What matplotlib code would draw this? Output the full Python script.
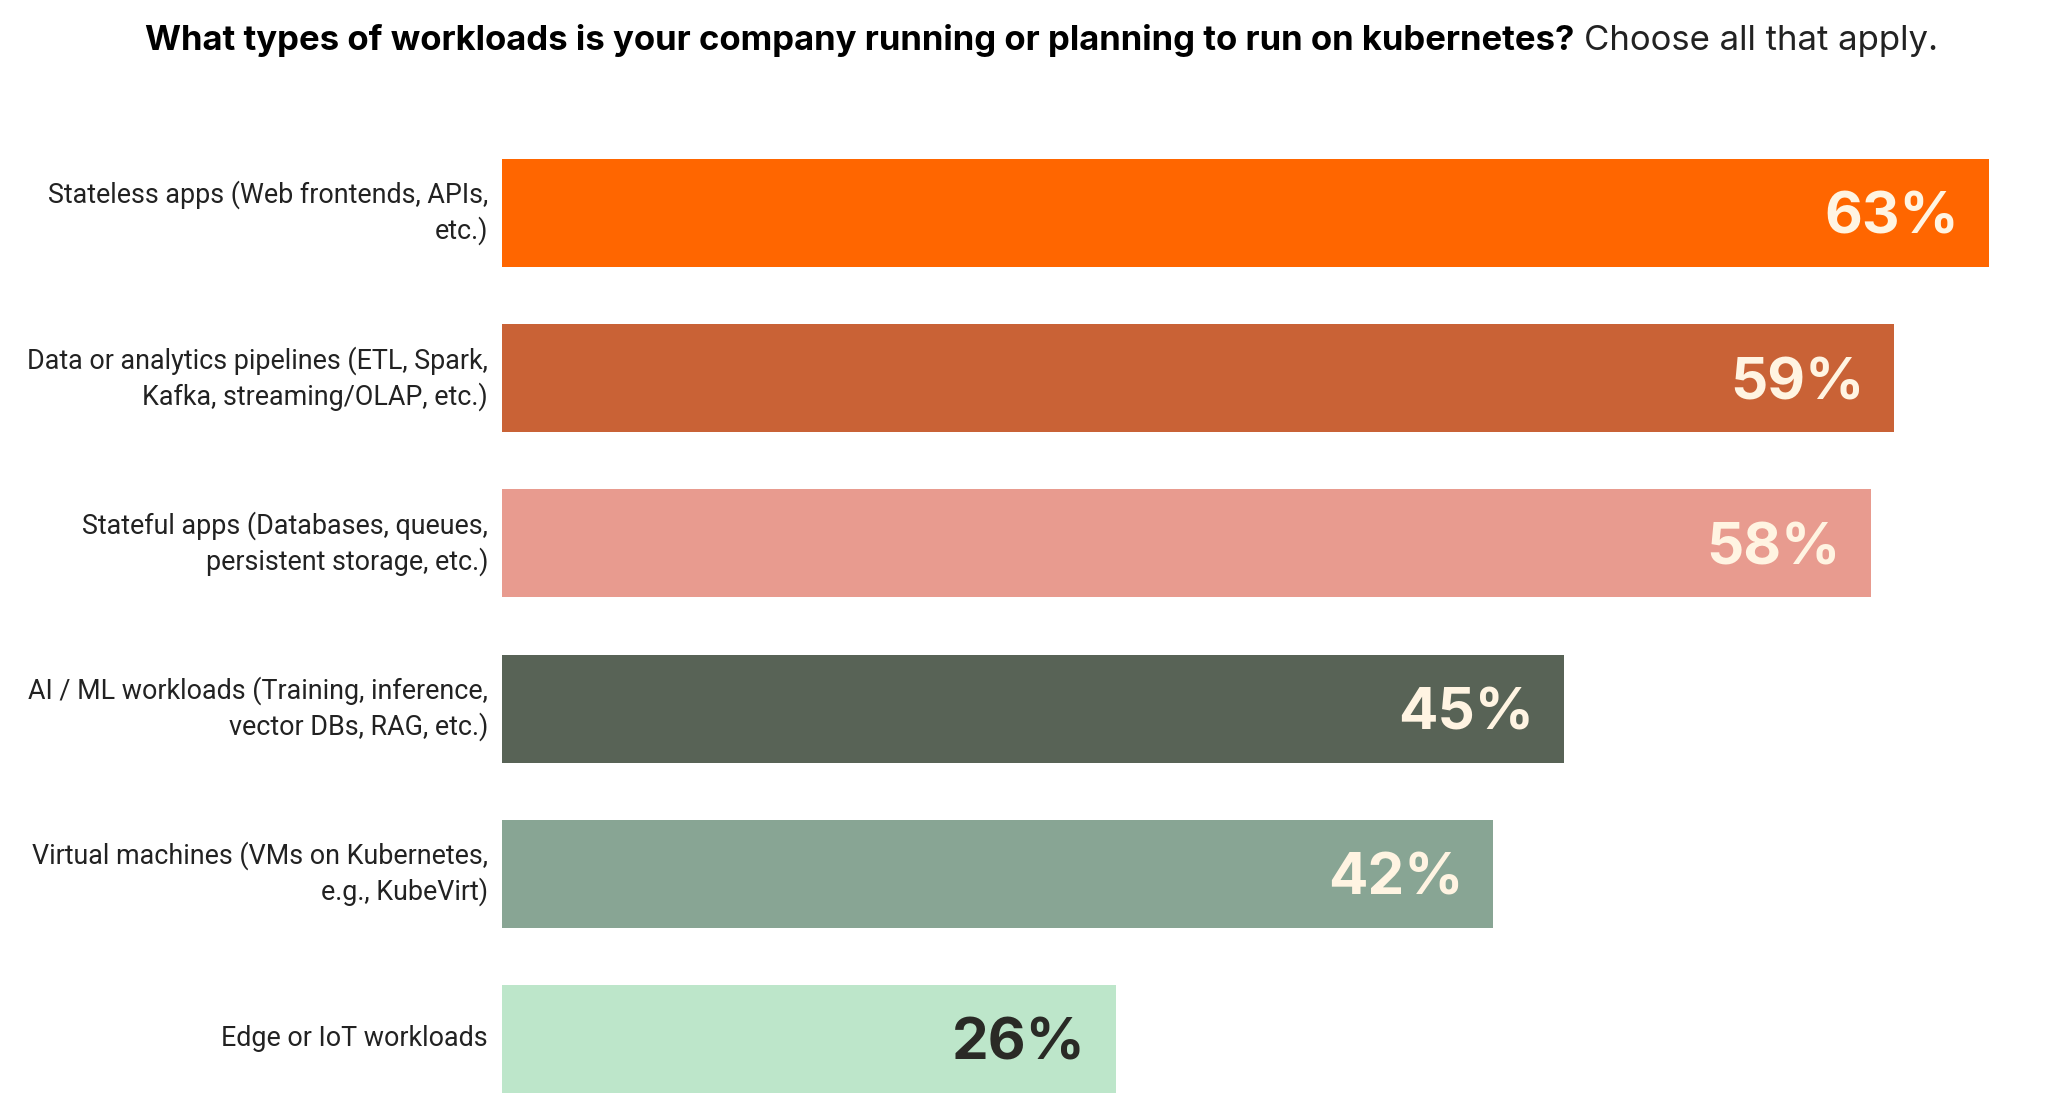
import matplotlib
matplotlib.use("Agg")
import matplotlib.pyplot as plt

# data, top to bottom
categories = [
    "Stateless apps (Web frontends, APIs,\netc.)",
    "Data or analytics pipelines (ETL, Spark,\nKafka, streaming/OLAP, etc.)",
    "Stateful apps (Databases, queues,\npersistent storage, etc.)",
    "AI / ML workloads (Training, inference,\nvector DBs, RAG, etc.)",
    "Virtual machines (VMs on Kubernetes,\ne.g., KubeVirt)",
    "Edge or IoT workloads",
]
shares = [63, 59, 58, 45, 42, 26]
bar_colors = ["#FF6600", "#C96236", "#E89B8F", "#586356", "#88A594", "#BDE6CA"]
text_colors = ["#FFF4E2", "#FFF4E2", "#FFF4E2", "#FFF4E2", "#FFF4E2", "#2A2A26"]

title_bold = "What types of workloads is your company running or planning to run on kubernetes?"
title_rest = "Choose all that apply."

W, H = 2048, 1119
fig = plt.figure(figsize=(W / 100, H / 100), dpi=100, facecolor="white")

# axes placed so 1% = ~23.6 px and the bar pitch is ~165 px
ax = fig.add_axes([502 / W, 0, 65 * 23.6 / W, (H - 130.4) / H])
ypos = list(range(len(categories)))
bars = ax.barh(ypos, shares, height=0.654, color=bar_colors, linewidth=0)
ax.set_xlim(0, 65)
ax.set_ylim(-0.5 + (H - 130.4) / 165.2, -0.5)

ax.set_yticks(ypos)
ax.set_yticklabels(categories, fontsize=19.4, family="Roboto", color="#222222",
                   linespacing=1.33, ha="right", va="center")
ax.tick_params(axis="y", length=0, pad=10)
ax.tick_params(axis="x", bottom=False, labelbottom=False)
for s in ax.spines.values():
    s.set_visible(False)

# value labels inside the bar end
for b, v, tc in zip(bars, shares, text_colors):
    ax.annotate(f"{v}%", xy=(b.get_width(), b.get_y() + b.get_height() / 2),
                xytext=(-30, 0), textcoords="offset pixels",
                ha="right", va="center_baseline", fontsize=42, fontweight="bold",
                family="Inter", color=tc)

# title: bold question then regular instruction
fig.text(1574 / W, 1 - 50 / H, title_bold, ha="right", va="baseline",
         fontsize=25, fontweight="bold", family="Inter", color="black")
fig.text(1584 / W, 1 - 50 / H, title_rest, ha="left", va="baseline",
         fontsize=25, family="Inter", color="#222222")

fig.savefig("out.png", dpi=100, facecolor="white")
